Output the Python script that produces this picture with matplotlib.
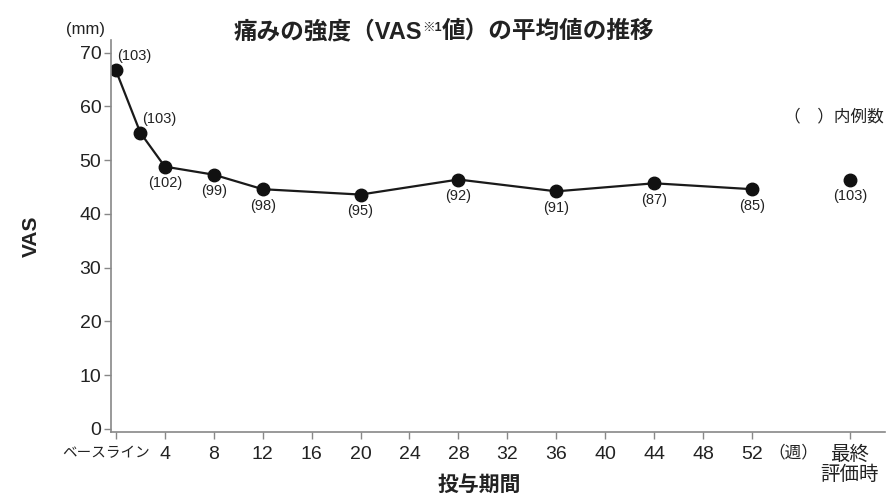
import matplotlib.pyplot as plt

plt.rcParams['font.family'] = ['Liberation Sans', 'Noto Sans CJK JP']

# data
weeks = [0, 2, 4, 8, 12, 20, 28, 36, 44, 52]
vas = [66.7, 55.1, 48.8, 47.3, 44.6, 43.6, 46.4, 44.2, 45.7, 44.6]
n_cases = [103, 103, 102, 99, 98, 95, 92, 91, 87, 85]
final_week = 60
final_vas = 46.4
final_n = 103

xticks = [0, 4, 8, 12, 16, 20, 24, 28, 32, 36, 40, 44, 48, 52, 60]
xticklabels = ['', '4', '8', '12', '16', '20', '24', '28', '32', '36',
               '40', '44', '48', '52', '最終\n評価時']

fig = plt.figure(figsize=(8.88, 4.97), dpi=100)
ax = fig.add_axes([0.125, 0.131, 0.872, 0.789])

ax.plot(weeks, vas, color='#1a1a1a', lw=1.6, marker='o', ms=9, mfc='#111111', mec='#111111')
ax.plot([final_week], [final_vas], 'o', ms=9, color='#111111')

# case counts
for i, (w, v, n) in enumerate(zip(weeks, vas, n_cases)):
    if i < 2:
        ax.annotate('(%d)' % n, (w, v), xytext=(1, 5), textcoords='offset points',
                    ha='left', va='bottom', fontsize=10.5, color='#222222')
    else:
        ax.annotate('(%d)' % n, (w, v), xytext=(0, -7), textcoords='offset points',
                    ha='center', va='top', fontsize=10.5, color='#222222')
ax.annotate('(%d)' % final_n, (final_week, final_vas), xytext=(0, -7), textcoords='offset points',
            ha='center', va='top', fontsize=10.5, color='#222222')

ax.set_xlim(-0.4, 62.9)
ax.set_ylim(-0.55, 72.4)
ax.set_yticks(range(0, 71, 10))
ax.set_xticks(xticks)
ax.set_xticklabels(xticklabels)
ax.get_xticklabels()[-1].set_fontsize(12)
ax.get_xticklabels()[-1].set_linespacing(1.1)

for s in ['top', 'right']:
    ax.spines[s].set_visible(False)
for s in ['left', 'bottom']:
    ax.spines[s].set_color('#888888')
    ax.spines[s].set_linewidth(1.2)
ax.tick_params(axis='both', colors='#888888', length=5, width=1, labelcolor='#222222', labelsize=14)
ax.tick_params(axis='x', pad=5)
ax.tick_params(axis='y', pad=2)

# baseline label and week unit
ax.annotate('ベースライン', (0, 0), xycoords=('data', 'axes fraction'), xytext=(-7, -10),
            textcoords='offset points', ha='center', va='top', fontsize=10.5, color='#222222',
            family=['Noto Sans CJK JP'])
ax.annotate('（週）', (52, 0), xycoords=('data', 'axes fraction'), xytext=(12, -9),
            textcoords='offset points', ha='left', va='top', fontsize=12, color='#222222')

fig.text(0.096, 0.94, '(mm)', fontsize=12, color='#222222', ha='center', va='center')
fig.text(0.995, 0.765, '（　）内例数', fontsize=12, color='#222222', ha='right', va='center')

# title in three pieces so the small "※1" sits raised
renderer = fig.canvas.get_renderer()
parts = [('痛みの強度（VAS', 17, 0), ('※1', 9, 7), ('値）の平均値の推移', 17, 0)]
pieces = []
x = 0
for txt, fs, dy in parts:
    t = fig.text(0, 0, txt, fontsize=fs, fontweight='bold', color='#222222',
                 ha='left', va='baseline')
    w = t.get_window_extent(renderer).width
    pieces.append((t, x, dy))
    x += w
total = x
x0 = 444 - total / 2
for t, dx, dy in pieces:
    t.set_position(((x0 + dx) / 888, (497 - 38 + dy) / 497))

ax.set_ylabel('VAS', fontsize=15, fontweight='bold', color='#222222', labelpad=28)
fig.text(0.54, 0.024, '投与期間', fontsize=15, fontweight='bold', color='#222222',
         ha='center', va='center')

fig.savefig('out.png', dpi=100)
